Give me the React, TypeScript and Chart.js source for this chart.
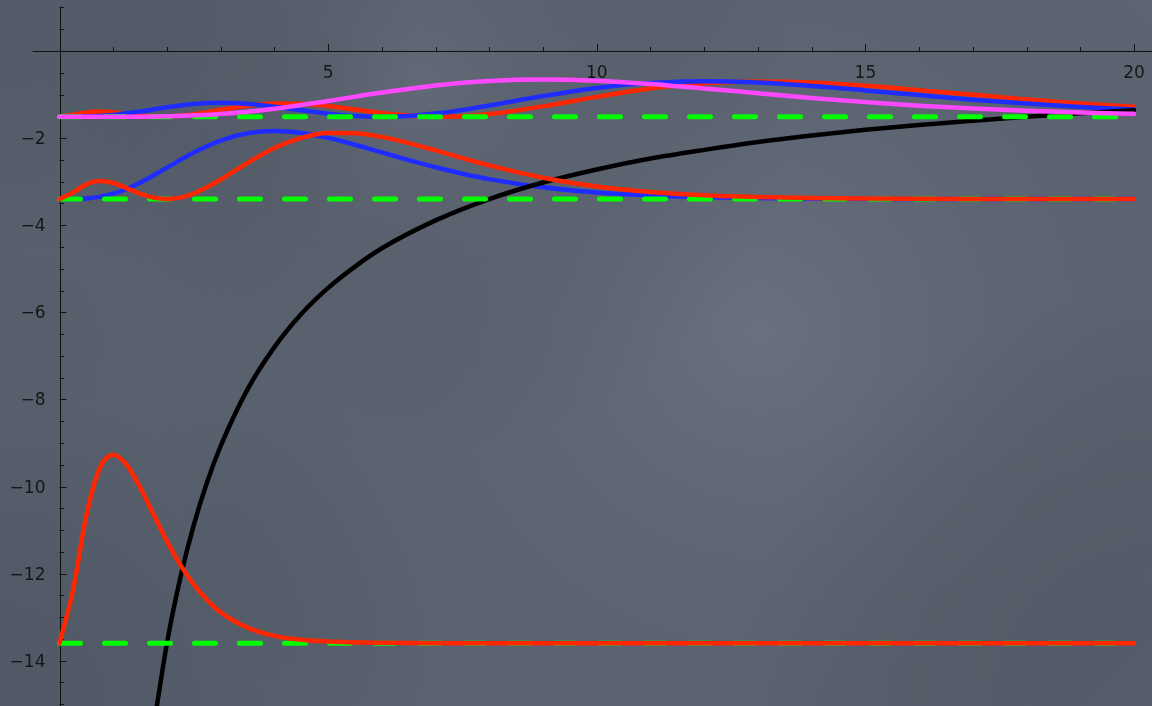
import { useEffect, useRef } from 'react';
import { Chart, registerables } from 'chart.js';

Chart.register(...registerables);

// n = 1 (1s) radial density, offset at -13.6
const x1s = [0, 0.25, 0.5, 0.75, 1, 1.25, 1.5, 1.75, 2, 2.25, 2.5, 2.75, 3, 3.5, 4, 4.5, 5, 6, 7, 8, 10, 12, 14, 16, 18, 20];
const y1s = [-13.6, -12.39, -10.66, -9.58, -9.27, -9.5, -10.02, -10.64, -11.26, -11.8, -12.25, -12.61, -12.89, -13.24, -13.43, -13.52, -13.56, -13.59, -13.6, -13.6, -13.6, -13.6, -13.6, -13.6, -13.6, -13.6];

// Coulomb potential
const xPot = [1.75, 2, 2.25, 2.5, 2.75, 3, 3.5, 4, 4.5, 5, 5.5, 6, 7, 8, 9, 10, 11, 12, 13, 14, 15, 16, 17, 18, 19, 20];
const yPot = [-15.54, -13.6, -12.09, -10.88, -9.89, -9.07, -7.77, -6.8, -6.04, -5.44, -4.95, -4.53, -3.89, -3.4, -3.02, -2.72, -2.47, -2.27, -2.09, -1.94, -1.81, -1.7, -1.6, -1.51, -1.43, -1.36];

// n = 2 (2s) offset at -3.4
const x2s = [0, 0.25, 0.5, 0.75, 1, 1.25, 1.5, 1.75, 2, 2.25, 2.5, 3, 3.5, 4, 4.5, 5, 5.5, 6, 6.5, 7, 7.5, 8, 9, 10, 11, 12, 13, 14, 15, 16, 17, 18, 19, 20];
const y2s = [-3.4, -3.251, -3.059, -2.985, -3.032, -3.148, -3.275, -3.367, -3.4, -3.367, -3.272, -2.952, -2.568, -2.228, -1.994, -1.884, -1.886, -1.972, -2.114, -2.283, -2.459, -2.627, -2.91, -3.109, -3.236, -3.312, -3.354, -3.377, -3.388, -3.394, -3.397, -3.399, -3.4, -3.4];

// n = 2 (2p) offset at -3.4
const x2p = [0, 0.5, 1, 1.5, 2, 2.5, 3, 3.5, 4, 4.5, 5, 5.5, 6, 6.5, 7, 7.5, 8, 9, 10, 11, 12, 13, 14, 15, 16, 17, 18, 19, 20];
const y2p = [-3.4, -3.387, -3.277, -3.024, -2.678, -2.331, -2.056, -1.89, -1.837, -1.882, -1.996, -2.153, -2.329, -2.505, -2.67, -2.817, -2.942, -3.13, -3.249, -3.318, -3.358, -3.378, -3.389, -3.395, -3.398, -3.4, -3.4, -3.4, -3.4];

// n = 3 (3s) offset at -1.51
const x3s = [0, 0.25, 0.5, 0.75, 1, 1.25, 1.5, 1.75, 2, 2.5, 3, 3.5, 4, 4.5, 5, 5.5, 6, 6.5, 7, 7.5, 8, 9, 10, 11, 12, 13, 14, 15, 16, 17, 18, 19, 20];
const y3s = [-1.51, -1.466, -1.41, -1.391, -1.409, -1.446, -1.483, -1.506, -1.508, -1.452, -1.35, -1.255, -1.205, -1.211, -1.265, -1.344, -1.423, -1.483, -1.509, -1.498, -1.449, -1.272, -1.053, -0.862, -0.74, -0.698, -0.724, -0.798, -0.899, -1.007, -1.111, -1.203, -1.28];

// n = 3 (3p) offset at -1.51
const x3p = [0, 0.5, 1, 1.5, 2, 2.5, 3, 3.5, 4, 4.5, 5, 5.5, 6, 6.5, 7, 7.5, 8, 9, 10, 11, 12, 13, 14, 15, 16, 17, 18, 19, 20];
const y3p = [-1.51, -1.506, -1.468, -1.387, -1.291, -1.216, -1.189, -1.214, -1.279, -1.361, -1.438, -1.491, -1.51, -1.491, -1.437, -1.354, -1.253, -1.034, -0.848, -0.732, -0.696, -0.726, -0.803, -0.905, -1.013, -1.117, -1.208, -1.284, -1.345];

// n = 3 (3d) offset at -1.51
const x3d = [0, 1, 2, 3, 4, 5, 6, 7, 8, 9, 10, 11, 12, 13, 14, 15, 16, 17, 18, 19, 20];
const y3d = [-1.51, -1.51, -1.499, -1.446, -1.325, -1.148, -0.954, -0.79, -0.687, -0.653, -0.682, -0.757, -0.859, -0.969, -1.077, -1.174, -1.256, -1.322, -1.374, -1.414, -1.443];

// energy levels
const levels = [-13.6, -3.4, -1.51];
const levelRange = [0, 20];

// axis ticks
const xMajorTicks = [5, 10, 15, 20];
const xTickLabels = ['5', '10', '15', '20'];
const yMajorTicks = [-2, -4, -6, -8, -10, -12, -14];
const yTickLabels = ['−2', '−4', '−6', '−8', '−10', '−12', '−14'];

const pts = (xs: number[], ys: number[]) => xs.map((x, i) => ({ x, y: ys[i] }));

const RED = '#ff2600';
const BLUE = '#1f2cff';
const MAGENTA = '#ff48ff';
const GREEN = '#00ff00';

const backgroundPlugin = {
  id: 'slateBg',
  beforeDraw(chart: any) {
    const { ctx, width, height } = chart;
    ctx.save();
    ctx.fillStyle = '#5f6775';
    ctx.fillRect(0, 0, width, height);
    const blobs = [
      { x: 760, y: 330, r: 620, c: 'rgba(140,148,162,0.22)' },
      { x: 420, y: 80, r: 380, c: 'rgba(130,138,152,0.15)' },
      { x: 0, y: 0, r: 420, c: 'rgba(40,48,64,0.22)' },
      { x: 0, y: 706, r: 460, c: 'rgba(40,46,58,0.25)' },
      { x: 1152, y: 706, r: 420, c: 'rgba(50,56,68,0.18)' },
    ];
    for (const b of blobs) {
      const g = ctx.createRadialGradient(b.x, b.y, 0, b.x, b.y, b.r);
      g.addColorStop(0, b.c);
      g.addColorStop(1, 'rgba(0,0,0,0)');
      ctx.fillStyle = g;
      ctx.fillRect(0, 0, width, height);
    }
    ctx.restore();
  },
};

const axesPlugin = {
  id: 'originAxes',
  beforeDatasetsDraw(chart: any) {
    const { ctx } = chart;
    const xs = chart.scales.x;
    const ys = chart.scales.y;
    const x0 = xs.getPixelForValue(0);
    const y0 = ys.getPixelForValue(0);
    ctx.save();
    ctx.strokeStyle = '#111';
    ctx.lineWidth = 1;
    ctx.beginPath();
    ctx.moveTo(xs.getPixelForValue(-0.5), y0 + 0.5);
    ctx.lineTo(chart.width, y0 + 0.5);
    ctx.moveTo(Math.round(x0) + 0.5, ys.getPixelForValue(1));
    ctx.lineTo(Math.round(x0) + 0.5, chart.height);
    // x ticks (upwards)
    for (let v = 1; v <= 20; v++) {
      const px = Math.round(xs.getPixelForValue(v)) + 0.5;
      const len = v % 5 === 0 ? 7 : 4;
      ctx.moveTo(px, y0);
      ctx.lineTo(px, y0 - len);
    }
    // y ticks (rightwards)
    for (let k = 2; k >= -30; k--) {
      const v = k / 2;
      if (v === 0) continue;
      const py = Math.round(ys.getPixelForValue(v)) + 0.5;
      const len = v % 2 === 0 ? 7 : 4.5;
      ctx.moveTo(x0, py);
      ctx.lineTo(x0 + len, py);
    }
    ctx.stroke();

    ctx.fillStyle = '#161616';
    ctx.font = '17px "DejaVu Sans"';
    ctx.textAlign = 'center';
    ctx.textBaseline = 'alphabetic';
    xMajorTicks.forEach((v, i) => {
      ctx.fillText(xTickLabels[i], xs.getPixelForValue(v), y0 + 27);
    });
    ctx.textAlign = 'right';
    yMajorTicks.forEach((v, i) => {
      ctx.fillText(yTickLabels[i], x0 - 14, ys.getPixelForValue(v) + 6);
    });
    ctx.restore();
  },
};

export default function App() {
  const ref = useRef<HTMLCanvasElement | null>(null);

  useEffect(() => {
    if (!ref.current) return;
    const curve = (data: any[], color: string, order: number) => ({
      data,
      borderColor: color,
      borderWidth: 4.5,
      pointRadius: 0,
      fill: false,
      cubicInterpolationMode: 'monotone' as const,
      borderJoinStyle: 'round' as const,
      borderCapStyle: 'round' as const,
      order,
    });
    const levelSet = (lv: number) => ({
      data: levelRange.map((x) => ({ x, y: lv })),
      borderColor: GREEN,
      borderWidth: 5,
      borderDash: [21, 24],
      borderCapStyle: 'round' as const,
      pointRadius: 0,
      fill: false,
      order: 2,
    });
    const chart = new Chart(ref.current, {
      type: 'line',
      data: {
        datasets: [
          curve(pts(x3d, y3d), MAGENTA, 0),
          curve(pts(x1s, y1s), RED, 1),
          curve(pts(x2s, y2s), RED, 1),
          ...levels.map(levelSet),
          curve(pts(xPot, yPot), '#000000', 3),
          curve(pts(x3p, y3p), BLUE, 4),
          curve(pts(x3s, y3s), RED, 5),
          curve(pts(x2p, y2p), BLUE, 6),
        ] as any,
      },
      options: {
        responsive: false,
        animation: false,
        devicePixelRatio: 1,
        events: [],
        layout: { padding: 0 },
        plugins: { legend: { display: false }, tooltip: { enabled: false } },
        scales: {
          x: { type: 'linear', min: -1.1075, max: 20.335, display: false },
          y: { type: 'linear', min: -15.04, max: 1.171, display: false },
        },
      },
      plugins: [backgroundPlugin, axesPlugin],
    });
    return () => chart.destroy();
  }, []);

  return (
    <div style={{ position: 'fixed', left: 0, top: 0, width: 1152, height: 706 }}>
      <canvas ref={ref} width={1152} height={706} style={{ display: 'block' }} />
    </div>
  );
}
